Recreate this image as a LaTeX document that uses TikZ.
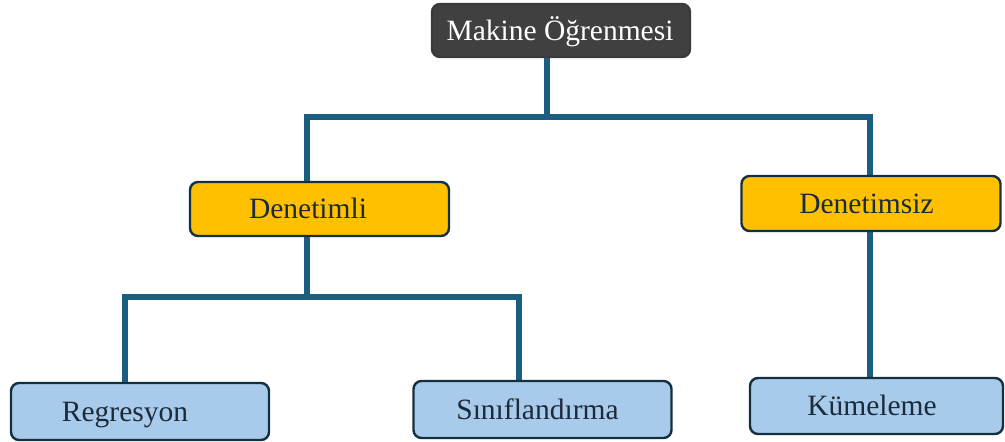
\documentclass[tikz,border=0pt]{standalone}
\usepackage{fontspec}
\setmainfont{Liberation Serif}
\newfontfamily\boxfont{Liberation Serif}
\usetikzlibrary{backgrounds}
\definecolor{rootfill}{HTML}{404040}
\definecolor{midfill}{HTML}{FFC000}
\definecolor{leaffill}{HTML}{A9CBEB}
\definecolor{boxline}{HTML}{13303F}
\definecolor{wire}{HTML}{1B5E80}
\definecolor{ink}{HTML}{1C2B3A}
\tikzset{
  box/.style={rectangle, rounded corners=8pt, line width=2.4pt, draw=boxline,
    inner sep=0pt, text height=19.5pt, text depth=0pt,
    font=\boxfont\fontsize{29.5}{35}\selectfont, text=ink},
  rootbox/.style={box, fill=rootfill, draw=rootfill!90!black, text=white,
    minimum width=258pt, minimum height=53pt},
  midbox/.style={box, fill=midfill, minimum width=259pt, minimum height=54pt},
  leafbox/.style={box, fill=leaffill, minimum width=258pt, minimum height=56pt},
  wireline/.style={draw=wire, line width=6pt, line join=miter}
}
\begin{document}
\begin{tikzpicture}[x=1pt, y=-1pt]
  \useasboundingbox (0,0) rectangle (1005,442);

  % boxes
  \node[rootbox] (root) at (561,30.5) {Makine Öğrenmesi\kern2pt};
  \node[midbox] (sup) at (319.5,209) {Denetimli\kern23pt};
  \node[midbox, minimum height=55pt] (unsup) at (871,203.5) {Denetimsiz\kern9pt};
  \node[leafbox, minimum height=57pt] (reg) at (140,411.5) {Regresyon\kern30pt};
  \node[leafbox, minimum height=57pt] (cls) at (542.5,409.5) {Sınıflandırma\kern10pt};
  \node[leafbox, minimum width=253pt] (clu) at (876.5,406) {Kümeleme\kern9pt};

  % junction points of the tree
  \coordinate (rootJ) at (547,117);
  \coordinate (supC) at (307,117);
  \coordinate (unsupC) at (870,117);
  \coordinate (supJ) at (307,297);
  \coordinate (regC) at (125,297);
  \coordinate (clsC) at (519,297);

  % connectors behind the boxes
  \begin{pgfonlayer}{background}
    \draw[wireline] (root.south -| rootJ) -- (rootJ);
    \draw[wireline] (supC |- sup.north) -- (supC) -- (unsupC) -- (unsupC |- clu.north);
    \draw[wireline] (sup.south -| supJ) -- (supJ);
    \draw[wireline] (regC |- reg.north) -- (regC) -- (clsC) -- (clsC |- cls.north);
  \end{pgfonlayer}
\end{tikzpicture}
\end{document}
